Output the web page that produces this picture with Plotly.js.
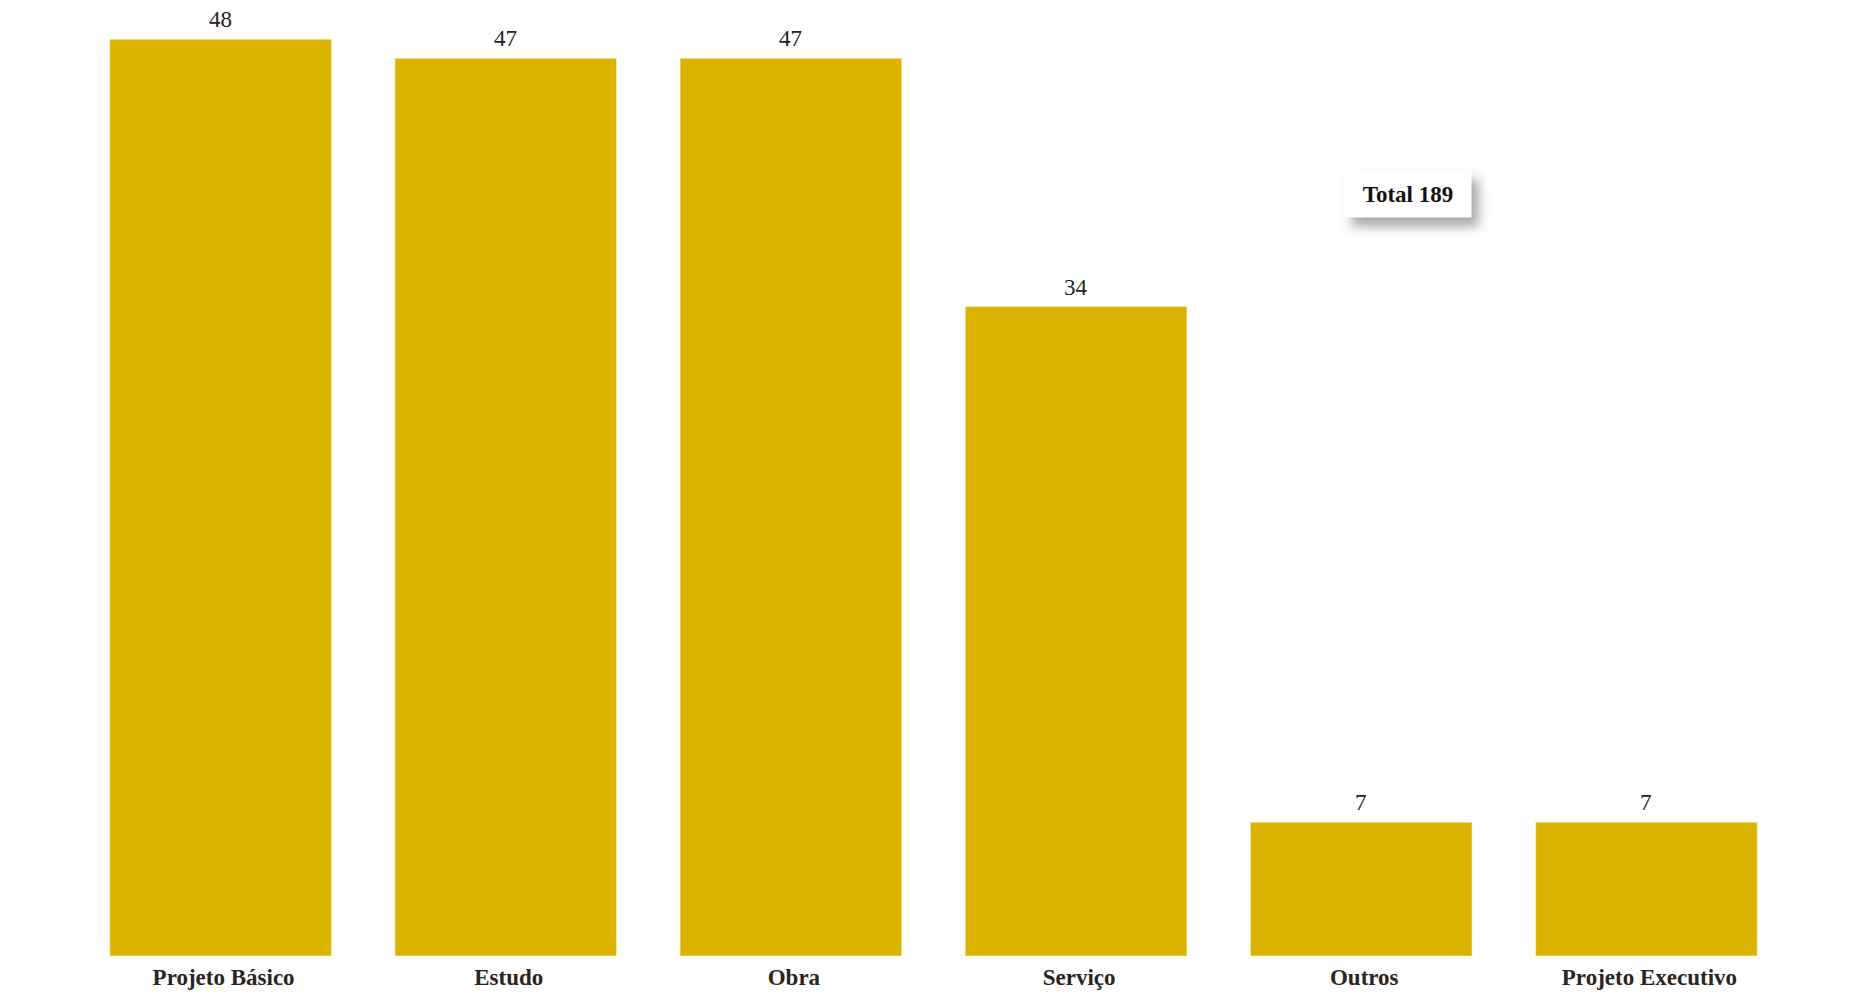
<!DOCTYPE html>
<html>
<head>
<meta charset="utf-8">
<script src="https://cdn.plot.ly/plotly-3.0.1.min.js"></script>
<style>
  html, body { margin: 0; padding: 0; background: #fff; }
  #chart { width: 1875px; height: 994px; }
  .js-plotly-plot .annotation.total-box .bg { filter: drop-shadow(7px 9px 6px rgba(0,0,0,0.35)); }
</style>
</head>
<body>
<div id="chart"></div>
<script>
const categories = ["Projeto Básico", "Estudo", "Obra", "Serviço", "Outros", "Projeto Executivo"];
const values = [48, 47, 47, 34, 7, 7];
const totalLabel = "Total 189";

const serif = "Liberation Serif, Times New Roman, serif";

const trace = {
  type: "bar",
  x: categories,
  y: values,
  cliponaxis: false,
  marker: { color: "#D9B300", line: { color: "rgba(255,240,200,0.6)", width: 1 } },
  hoverinfo: "x+y"
};

const valueLabels = categories.map((c, i) => ({
  xref: "x", yref: "y",
  x: c, y: values[i],
  xanchor: "center", yanchor: "bottom",
  text: String(values[i]),
  showarrow: false,
  yshift: 5,
  font: { family: serif, size: 23, color: "#222" }
}));

const layout = {
  width: 1875,
  height: 994,
  margin: { l: 78, r: 86, t: 1, b: 38 },
  paper_bgcolor: "#fff",
  plot_bgcolor: "#fff",
  bargap: 0.223,
  showlegend: false,
  xaxis: {
    type: "category",
    showgrid: false,
    zeroline: false,
    showline: false,
    ticks: "",
    tickfont: { family: serif, size: 23, color: "#2a2520", weight: "bold" },
    ticklabelstandoff: 5,
    ticklabelshift: 3
  },
  yaxis: {
    range: [0, 50],
    visible: false,
    showgrid: false,
    zeroline: false
  },
  annotations: valueLabels.concat([{
    xref: "paper", yref: "paper",
    x: 0.7775, y: 0.798,
    xanchor: "center", yanchor: "middle",
    text: "<b>" + totalLabel + "</b>",
    showarrow: false,
    font: { family: serif, size: 23, color: "#111" },
    bgcolor: "#fff",
    borderpad: 9,
    width: 108,
    height: 28
  }])
};

Plotly.newPlot("chart", [trace], layout, { displayModeBar: false, responsive: false }).then(gd => {
  const anns = gd.querySelectorAll(".annotation");
  if (anns.length) anns[anns.length - 1].classList.add("total-box");
});
</script>
</body>
</html>
